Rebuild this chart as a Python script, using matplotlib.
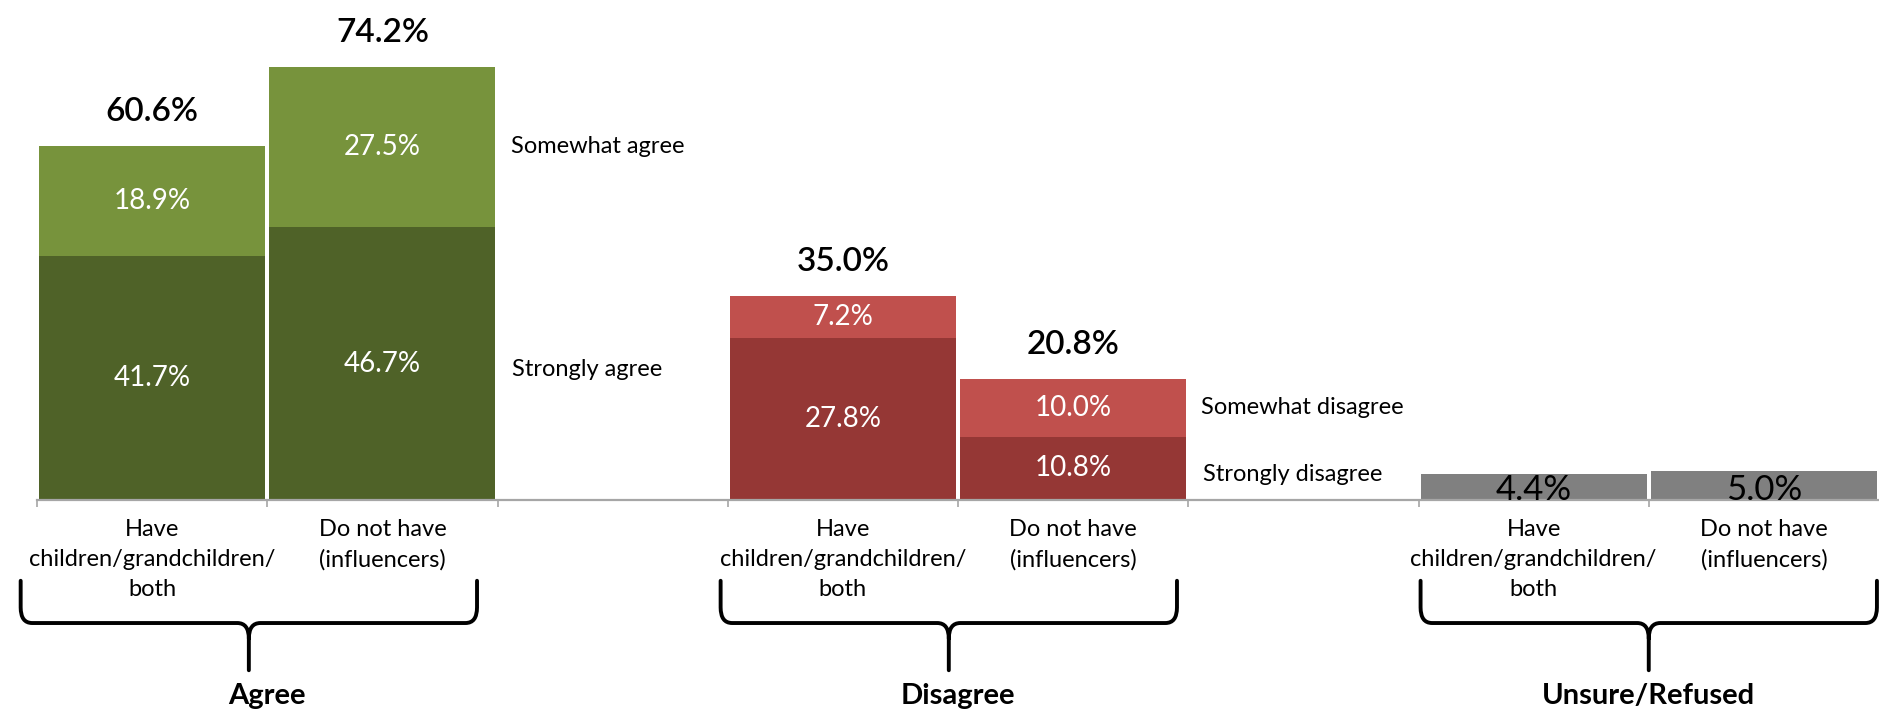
import matplotlib
matplotlib.use("Agg")
import matplotlib.pyplot as plt
import matplotlib.transforms as mtransforms
from matplotlib.path import Path
from matplotlib.patches import PathPatch
import numpy as np

plt.rcParams['font.family'] = ['Lato', 'DejaVu Sans']

# data
sub_labels = ['Have\nchildren/grandchildren/\nboth', 'Do not have\n(influencers)']
groups = ['Agree', 'Disagree', 'Unsure/Refused']
group_pos = [[0, 1], [3, 4], [6, 7]]      # slots 2 and 5 stay empty

agree_strongly = [41.7, 46.7]
agree_somewhat = [18.9, 27.5]
disagree_strongly = [27.8, 10.8]
disagree_somewhat = [7.2, 10.0]
unsure_refused = [4.4, 5.0]

agree_names = ['Somewhat agree', 'Strongly agree']
disagree_names = ['Somewhat disagree', 'Strongly disagree']

# colours
dark_green, light_green = '#4F6228', '#77933C'
dark_red, light_red = '#953735', '#C0504D'
grey_bar = '#808080'

fig = plt.figure(figsize=(18.79, 7.10), dpi=100)
ax = fig.add_axes([0.0197, 0.2958, 0.9803, 0.658])
w = 0.982


def stacked(pos, low, high, c_low, c_high, names):
    b1 = ax.bar(pos, low, w, color=c_low, linewidth=0)
    b2 = ax.bar(pos, high, w, bottom=low, color=c_high, linewidth=0)
    ax.bar_label(b1, labels=[f'{v:.1f}%' for v in low], label_type='center',
                 color='white', fontsize=20)
    ax.bar_label(b2, labels=[f'{v:.1f}%' for v in high], label_type='center',
                 color='white', fontsize=20)
    totals = np.add(low, high)
    for x, t in zip(pos, totals):
        ax.annotate(f'{t:.1f}%', (x, t), xytext=(0, 18), textcoords='offset points',
                    ha='center', va='baseline', fontsize=24, fontweight='semibold')
    # series names next to the last bar of the group
    xr = pos[-1] + w / 2
    ax.annotate(names[0], (xr, low[-1] + high[-1] / 2), xytext=(11, 0),
                textcoords='offset points', va='center', fontsize=17)
    ax.annotate(names[1], (xr, low[-1] / 2), xytext=(12, -4),
                textcoords='offset points', va='center', fontsize=17)


stacked(group_pos[0], agree_strongly, agree_somewhat, dark_green, light_green, agree_names)
stacked(group_pos[1], disagree_strongly, disagree_somewhat, dark_red, light_red, disagree_names)

ax.bar(group_pos[2], unsure_refused, w, color=grey_bar, linewidth=0)
for x, v in zip(group_pos[2], unsure_refused):
    ax.annotate(f'{v:.1f}%', (x, 0), xytext=(0, 0), textcoords='offset points',
                ha='center', va='baseline', fontsize=25)

ax.set_xlim(-0.5, 7.5)
ax.set_ylim(0, 80)
for s in ['top', 'right', 'left']:
    ax.spines[s].set_visible(False)
ax.spines['bottom'].set_color('#A6A6A6')
ax.spines['bottom'].set_linewidth(1.6)
ax.set_yticks([])

# tick marks between categories, labels under the bars
ax.set_xticks(np.arange(-0.5, 7.0, 1.0), [''] * 8)
ax.tick_params(axis='x', which='major', direction='out', length=5, width=1.2, color='#A6A6A6')
all_pos = [p for g in group_pos for p in g]
ax.set_xticks(all_pos, sub_labels * 3, minor=True, fontsize=17, linespacing=1.52)
ax.tick_params(axis='x', which='minor', length=0, pad=14)

# curly braces under the groups
trans = mtransforms.blended_transform_factory(ax.transData, fig.transFigure)
brace_shift = [-0.08, -0.04, 0.0]
y_top, y_mid, y_tip = 0.182, 0.1225, 0.056
rx, ry = 0.05, 0.022
for g, pos, sh in zip(groups, group_pos, brace_shift):
    x0 = pos[0] - w / 2 + sh
    x1 = pos[-1] + w / 2 + sh
    xc = (x0 + x1) / 2
    verts = [(x0, y_top), (x0, y_mid + ry), (x0, y_mid), (x0 + rx, y_mid),
             (xc - rx, y_mid), (xc, y_mid), (xc, y_mid - ry), (xc, y_tip),
             (x1, y_top), (x1, y_mid + ry), (x1, y_mid), (x1 - rx, y_mid),
             (xc + rx, y_mid), (xc, y_mid), (xc, y_mid - ry)]
    codes = [Path.MOVETO, Path.LINETO, Path.CURVE3, Path.CURVE3,
             Path.LINETO, Path.CURVE3, Path.CURVE3, Path.LINETO,
             Path.MOVETO, Path.LINETO, Path.CURVE3, Path.CURVE3,
             Path.LINETO, Path.CURVE3, Path.CURVE3]
    ax.add_patch(PathPatch(Path(verts, codes), transform=trans, fill=False,
                           lw=2.8, edgecolor='black', clip_on=False,
                           capstyle='round', joinstyle='round'))
    ax.text(np.mean(pos), 0.008, g, transform=trans, ha='center', va='baseline',
            fontsize=21, fontweight='bold')

fig.savefig('out.png', dpi=100)
